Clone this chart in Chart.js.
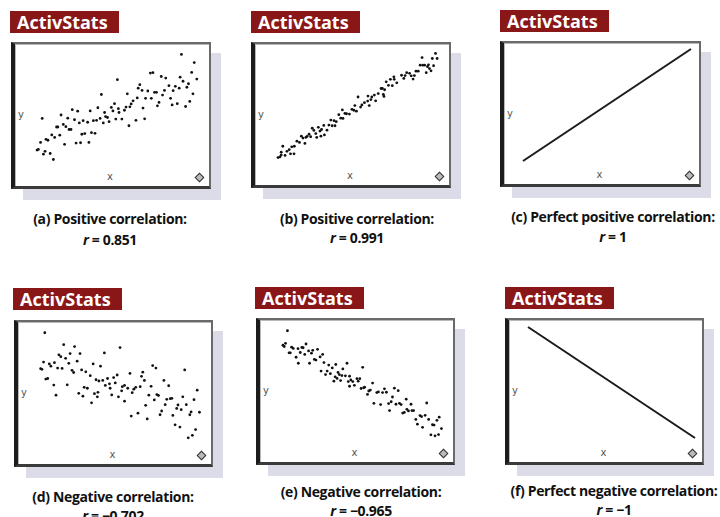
<!DOCTYPE html>
<html>
<head>
<meta charset="utf-8">
<script src="https://cdn.jsdelivr.net/npm/chart.js@4"></script>
<style>
  html, body { margin: 0; padding: 0; background: #fff; }
  body { width: 720px; height: 517px; position: relative; overflow: hidden; font-family: "Open Sans", "DejaVu Sans", sans-serif; }
  .tag { position: absolute; background: #8a1718; color: #fff; font-weight: bold; font-size: 18px; line-height: 22px; padding-left: 7px; box-sizing: border-box; letter-spacing: 0px; }
  .shadow { position: absolute; background: #dcdce8; }
  .frame { position: absolute; background: #fff; box-sizing: border-box; border: 2px solid #6a6a6a; border-left: 4px solid #1c1c1c; border-bottom: 3px solid #3a3a3a; box-shadow: inset 1px 1px 0 #b8b8b8; }
  .ax { position: absolute; font-size: 10px; color: #555; font-family: "DejaVu Sans", sans-serif; }
  .dia { position: absolute; width: 5px; height: 5px; border: 1.5px solid #333; transform: rotate(45deg); background: #bbb; }
  .plot { position: absolute; }
  .cap { position: absolute; width: 260px; text-align: center; font-weight: bold; font-size: 14px; color: #111; letter-spacing: -0.35px; white-space: nowrap; }
</style>
</head>
<body>
<script>
// scatter points, x 0..606, y 0..450 per panel
const pointsA = [
  [523,417],[563,391],[426,358],[434,359],[323,337],[460,347],[474,342],[519,345],[528,332],[555,360],
  [571,339],[545,324],[393,321],[388,310],[484,318],[504,316],[516,310],[470,303],[497,302],[540,313],
  [400,303],[418,301],[439,297],[445,297],[464,288],[385,279],[411,278],[429,278],[273,290],[354,292],
  [372,270],[366,260],[559,292],[489,278],[549,268],[453,265],[448,254],[494,257],[510,261],[536,252],
  [314,261],[304,249],[350,250],[345,240],[326,245],[362,251],[262,248],[182,242],[199,237],[238,238],
  [283,233],[286,220],[292,217],[309,238],[328,233],[403,247],[408,213],[147,225],[88,214],[168,215],
  [189,210],[216,207],[204,200],[230,202],[248,207],[258,208],[269,214],[279,200],[297,204],[318,212],
  [337,212],[381,208],[359,191],[154,195],[162,188],[133,187],[137,187],[172,179],[178,179],[143,161],
  [118,162],[127,154],[100,148],[106,145],[212,164],[221,166],[242,169],[253,167],[158,132],[194,136],
  [208,137],[234,138],[83,138],[76,116],[72,114],[97,110],[92,101],[113,103],[123,84]
];
const pointsB = [
  [567,420],[525,407],[557,404],[572,404],[519,383],[527,383],[533,383],[545,384],[542,378],[561,381],
  [548,372],[506,364],[513,364],[538,359],[553,365],[477,359],[486,357],[461,351],[472,350],[491,349],
  [501,350],[437,346],[426,338],[438,338],[468,341],[446,327],[497,339],[413,330],[420,319],[432,318],
  [397,309],[401,309],[408,305],[388,293],[376,288],[404,290],[406,284],[356,285],[368,282],[365,274],
  [325,282],[345,264],[337,257],[355,269],[380,270],[315,255],[333,250],[360,255],[306,243],[312,240],
  [320,237],[276,241],[265,226],[284,230],[289,229],[298,228],[271,215],[278,214],[240,209],[250,207],
  [257,204],[234,193],[244,191],[253,191],[218,192],[201,186],[211,179],[182,183],[187,176],[206,174],
  [228,177],[193,166],[220,162],[172,164],[166,157],[148,158],[153,152],[162,154],[177,156],[196,154],
  [209,158],[134,142],[142,138],[159,135],[118,124],[126,126],[110,115],[90,126],[103,110],[85,98],
  [97,97],[75,90],[81,92],[114,102],[125,102],[85,107]
];
const lineC = [[69,90],[573,426]];
const pointsD = [
  [90,416],[149,378],[183,372],[325,369],[276,352],[134,346],[140,340],[169,350],[200,350],[155,335],
  [86,323],[104,317],[109,310],[120,321],[165,319],[191,326],[241,317],[264,310],[77,302],[81,300],
  [130,304],[144,303],[175,297],[180,290],[205,298],[218,292],[427,312],[437,304],[527,298],[356,287],
  [396,291],[392,278],[232,280],[93,269],[99,271],[250,267],[259,263],[271,265],[286,271],[305,274],
  [316,282],[401,265],[462,265],[118,250],[160,251],[279,249],[292,254],[310,257],[339,249],[213,243],
  [223,240],[294,240],[332,245],[349,240],[368,237],[374,243],[388,245],[422,246],[477,248],[256,227],
  [196,224],[245,223],[299,219],[330,232],[363,226],[320,213],[125,218],[209,215],[254,213],[415,218],
  [440,220],[445,217],[566,234],[339,199],[236,194],[432,203],[471,205],[482,207],[487,208],[521,213],
  [556,204],[405,186],[466,188],[506,187],[532,188],[502,176],[516,172],[455,168],[450,156],[547,165],
  [543,156],[573,164],[381,161],[360,152],[410,143],[490,154],[497,124],[512,117],[561,109],[551,91],
  [538,83]
];
const pointsE = [
  [92,416],[78,370],[82,366],[86,376],[105,364],[110,360],[125,359],[137,363],[141,362],[150,374],
  [97,346],[101,346],[132,347],[158,352],[171,354],[186,357],[167,345],[146,341],[119,332],[176,325],
  [181,323],[194,333],[202,341],[161,313],[126,313],[206,315],[221,307],[232,298],[243,309],[278,313],
  [265,295],[216,288],[211,277],[197,288],[226,280],[250,284],[254,277],[262,274],[273,273],[286,272],
  [327,300],[241,270],[247,265],[237,256],[258,258],[290,260],[309,264],[318,264],[282,255],[296,255],
  [301,243],[313,256],[286,240],[358,250],[333,237],[322,233],[351,228],[346,225],[342,214],[330,235],
  [371,220],[376,222],[395,232],[389,220],[401,221],[426,234],[438,226],[420,206],[362,186],[383,182],
  [408,185],[416,191],[442,186],[447,182],[431,183],[463,199],[478,183],[411,163],[452,155],[457,157],
  [470,162],[481,163],[486,163],[465,167],[527,187],[506,147],[511,144],[493,135],[522,148],[566,142],
  [498,120],[533,135],[514,110],[559,132],[545,118],[550,117],[540,86],[553,83],[564,87],[573,106]
];
const lineF = [[69,423],[570,90]];

const captions = [
  '(a) Positive correlation:', '(b) Positive correlation:', '(c) Perfect positive correlation:',
  '(d) Negative correlation:', '(e) Negative correlation:', '(f) Perfect negative correlation:'
];
const rValues = ['0.851', '0.991', '1', '\u22120.702', '\u22120.965', '\u22121'];

// layout of the six panels
const panels = [
  { pts: pointsA, line: false, tag: [10, 11], frame: [11, 42, 200, 147], plot: [10, 40], cap: [110, 219, 240] },
  { pts: pointsB, line: false, tag: [251, 11], frame: [251, 42, 200, 146], plot: [250, 40], cap: [357, 219, 238] },
  { pts: lineC, line: true, tag: [500, 10], frame: [500, 41, 201, 146], plot: [500, 41], cap: [613, 217, 237] },
  { pts: pointsD, line: false, tag: [13, 288], frame: [14, 320, 199, 147], plot: [12, 318], cap: [113, 497, 516] },
  { pts: pointsE, line: false, tag: [255, 287], frame: [256, 318, 199, 147], plot: [254, 316], cap: [361, 492, 511] },
  { pts: lineF, line: true, tag: [505, 287], frame: [505, 318, 199, 147], plot: [505, 318], cap: [614, 491, 510] }
];

function el(cls, css, html) {
  const d = document.createElement('div');
  d.className = cls;
  Object.assign(d.style, css);
  if (html) d.innerHTML = html;
  document.body.appendChild(d);
  return d;
}

panels.forEach((p, i) => {
  const [fx, fy, fw, fh] = p.frame;
  el('tag', { left: p.tag[0] + 'px', top: p.tag[1] + 'px', width: '109px', height: '22px' }, 'ActivStats');
  el('shadow', { left: (fx + 12) + 'px', top: (fy + 11) + 'px', width: (fw - 2) + 'px', height: fh + 'px' });
  el('frame', { left: fx + 'px', top: fy + 'px', width: fw + 'px', height: fh + 'px' });
  el('ax', { left: (fx + 7) + 'px', top: (fy + 67) + 'px' }, 'y');
  el('ax', { left: (fx + fw / 2 - 4) + 'px', top: (fy + fh - 18) + 'px' }, 'x');
  el('dia', { left: (fx + fw - 15) + 'px', top: (fy + fh - 15) + 'px' });
  el('cap', { left: (p.cap[0] - 130) + 'px', top: (p.cap[1] - 10) + 'px' }, captions[i]);
  el('cap', { left: (p.cap[0] - 130) + 'px', top: (p.cap[2] - 10) + 'px' }, '<i>r</i> = ' + rValues[i]);

  const holder = el('plot', { left: p.plot[0] + 'px', top: p.plot[1] + 'px', width: '202px', height: '150px' });
  const canvas = document.createElement('canvas');
  canvas.width = 202;
  canvas.height = 150;
  holder.appendChild(canvas);

  new Chart(canvas, {
    type: 'scatter',
    data: {
      datasets: [{
        data: p.pts.map(([x, y]) => ({ x, y })),
        showLine: p.line,
        borderColor: '#1a1a1a',
        borderWidth: 2,
        pointRadius: p.line ? 0 : 1.4,
        pointBackgroundColor: '#111',
        pointBorderWidth: 0
      }]
    },
    options: {
      responsive: false,
      animation: false,
      events: [],
      layout: { padding: 0 },
      plugins: {
        legend: { display: false },
        tooltip: { enabled: false }
      },
      scales: {
        x: { type: 'linear', display: false, min: 0, max: 606 },
        y: { type: 'linear', display: false, min: 0, max: 450 }
      }
    }
  });
});
</script>
</body>
</html>
